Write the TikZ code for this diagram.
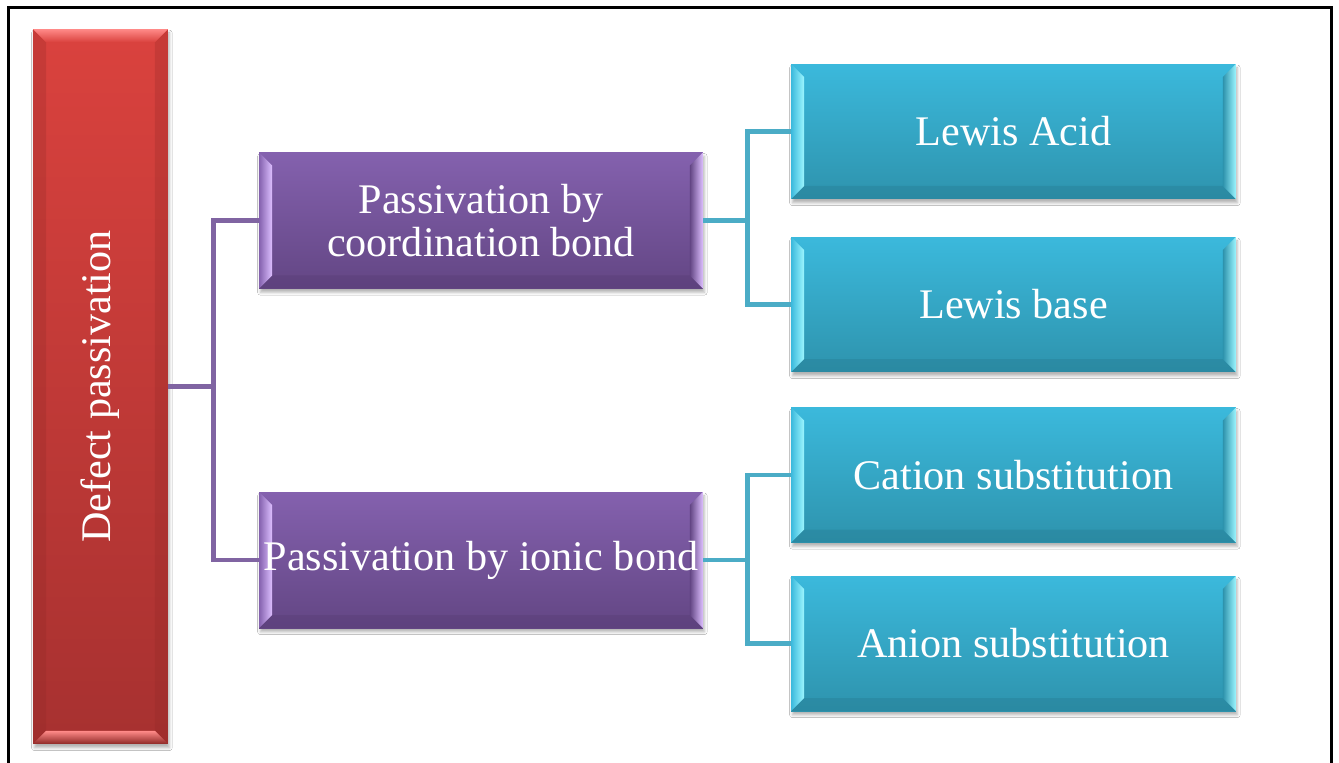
\documentclass[tikz,border=0pt]{standalone}
\usepackage{fontspec}
\setmainfont{Liberation Serif}
\usetikzlibrary{calc,shadows.blur}

\definecolor{redtop}{HTML}{DA423E}
\definecolor{redbot}{HTML}{A73130}
\definecolor{redlight}{HTML}{FF8A88}
\definecolor{reddark}{HTML}{8E2826}
\definecolor{purtop}{HTML}{8461AE}
\definecolor{purbot}{HTML}{634684}
\definecolor{purlight}{HTML}{DDBFFF}
\definecolor{purdark}{HTML}{553B72}
\definecolor{aqtop}{HTML}{3BB9DC}
\definecolor{aqbot}{HTML}{2E93AD}
\definecolor{aqlight}{HTML}{9CF6FF}
\definecolor{aqdark}{HTML}{25798F}
\definecolor{purline}{HTML}{8064A2}
\definecolor{aqline}{HTML}{4BACC6}

\tikzset{
  boxbase/.style 2 args={draw=none, inner sep=0pt, text=white, align=center,
    top color=#1, bottom color=#2,
    blur shadow={shadow xshift=0.8pt, shadow yshift=-2.2pt, shadow blur radius=1.6pt, shadow opacity=30}},
  % bevel lit on the sides (purple and aqua boxes)
  hbevel/.style n args={4}{boxbase={#1}{#2},
    path picture={
      \coordinate (nw) at (path picture bounding box.north west);
      \coordinate (ne) at (path picture bounding box.north east);
      \coordinate (sw) at (path picture bounding box.south west);
      \coordinate (se) at (path picture bounding box.south east);
      \fill[#4,opacity=0.35] (sw) -- (se) -- ($(se)+(-0.26cm,0.26cm)$) -- ($(sw)+(0.26cm,0.26cm)$) -- cycle;
      \shade[left color=#1,right color=#3] (nw) -- ($(nw)+(0.26cm,-0.26cm)$) -- ($(sw)+(0.26cm,0.26cm)$) -- (sw) -- cycle;
      \shade[left color=#2,right color=#3] (ne) -- ($(ne)+(-0.26cm,-0.26cm)$) -- ($(se)+(-0.26cm,0.26cm)$) -- (se) -- cycle;
    }},
  % bevel lit on top and bottom (red box)
  vbevel/.style n args={4}{boxbase={#1}{#2},
    path picture={
      \coordinate (nw) at (path picture bounding box.north west);
      \coordinate (ne) at (path picture bounding box.north east);
      \coordinate (sw) at (path picture bounding box.south west);
      \coordinate (se) at (path picture bounding box.south east);
      \fill[#4,opacity=0.25] (nw) -- ($(nw)+(0.26cm,-0.26cm)$) -- ($(sw)+(0.26cm,0.26cm)$) -- (sw) -- cycle;
      \fill[#4,opacity=0.25] (ne) -- ($(ne)+(-0.26cm,-0.26cm)$) -- ($(se)+(-0.26cm,0.26cm)$) -- (se) -- cycle;
      \shade[top color=#3,bottom color=#1] (nw) -- (ne) -- ($(ne)+(-0.26cm,-0.26cm)$) -- ($(nw)+(0.26cm,-0.26cm)$) -- cycle;
      \shade[top color=#3,bottom color=#4] (sw) -- (se) -- ($(se)+(-0.26cm,0.26cm)$) -- ($(sw)+(0.26cm,0.26cm)$) -- cycle;
    }},
  link/.style={line width=2.7pt},
}

\begin{document}
\begin{tikzpicture}[x=0.02cm,y=-0.02cm,font=\fontsize{24}{24.5}\selectfont]
  \useasboundingbox (0,0) rectangle (1339,762);
  \fill[white] (0,0) rectangle (1339,762);
  \draw[line width=1.4pt] (8.5,775) -- (8.5,7.5) -- (1331.5,7.5) -- (1331.5,775);

  \node[vbevel={redtop}{redbot}{redlight}{reddark}, minimum width=2.7cm, minimum height=14.3cm]
    (defect) at (100.5,386.5) {\rotatebox{90}{Defect passivation}};

  \begin{scope}[every node/.style={hbevel={purtop}{purbot}{purlight}{purdark}, minimum width=8.88cm, minimum height=2.72cm}]
    \node (coord) at (481,220.5) {Passivation by\\coordination bond};
    \node (ionic) at (481,560) {Passivation by ionic bond};
  \end{scope}

  \begin{scope}[every node/.style={hbevel={aqtop}{aqbot}{aqlight}{aqdark}, minimum width=8.9cm, minimum height=2.7cm}]
    \node (acid) at (1013.5,131.5) {Lewis Acid};
    \node (base) at (1013.5,304.5) {Lewis base};
    \node (cation) at (1013.5,475) {Cation substitution};
    \node (anion) at (1013.5,643.5) {Anion substitution};
  \end{scope}

  \draw[link,purline] (defect.east) -- ++(45,0) coordinate (j0);
  \draw[link,purline] (j0) |- (coord.west);
  \draw[link,purline] (j0) |- (ionic.west);
  \draw[link,aqline] (coord.east) -- ++(44,0) coordinate (j1);
  \draw[link,aqline] (j1) |- (acid.west);
  \draw[link,aqline] (j1) |- (base.west);
  \draw[link,aqline] (ionic.east) -- ++(44,0) coordinate (j2);
  \draw[link,aqline] (j2) |- (cation.west);
  \draw[link,aqline] (j2) |- (anion.west);
\end{tikzpicture}
\end{document}
